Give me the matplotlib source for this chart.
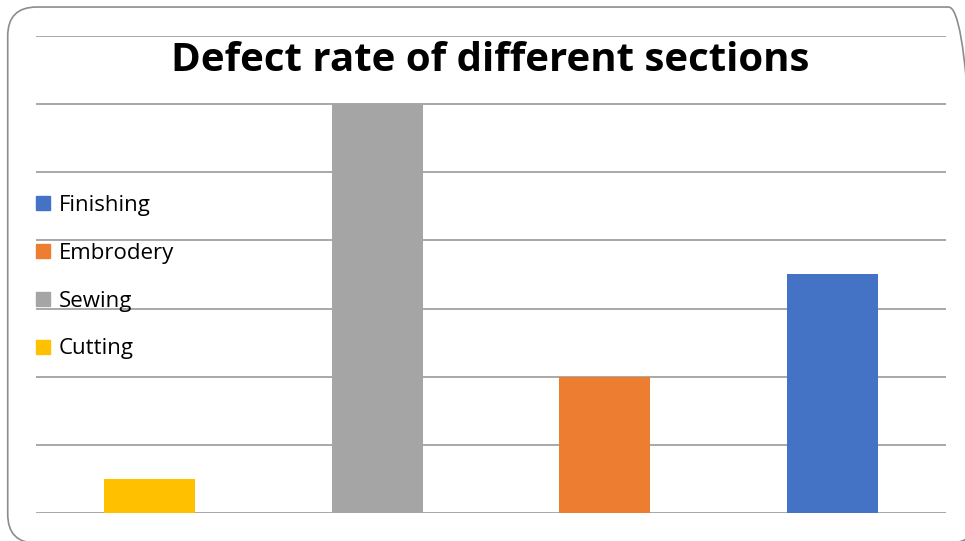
import matplotlib.pyplot as plt
from matplotlib.patches import FancyBboxPatch, Patch

# data
sections = ["Cutting", "Sewing", "Embrodery", "Finishing"]
defect_rate = [0.5, 6, 2, 3.5]
bar_colors = ["#FFC000", "#A5A5A5", "#ED7D31", "#4472C4"]

plt.rcParams['font.family'] = ['Open Sans', 'DejaVu Sans']

fig = plt.figure(figsize=(9.65, 5.41), dpi=100)
ax = fig.add_axes([0.0373, 0.0518, 0.943, 0.8817])

x = range(len(sections))
ax.bar(x, defect_rate, width=0.4, color=bar_colors, zorder=3)
ax.set_xlim(-0.5, 3.5)
ax.set_ylim(0, 7)
ax.set_yticks(range(0, 8))
ax.set_xticks([])
ax.tick_params(left=False, labelleft=False)
ax.grid(axis='y', color='#9a9a9a', linewidth=1.2, zorder=0)
for s in ax.spines.values():
    s.set_visible(False)

# title sits inside the plot area
fig.text(0.508, 0.888, "Defect rate of different sections", ha='center', va='center',
         fontsize=29, fontweight='bold')

# legend, in reverse order, overlaid on the left
handles = [Patch(color=c, label=l) for l, c in zip(sections, bar_colors)][::-1]
fig.legend(handles=handles, loc='upper left', bbox_to_anchor=(0.017, 0.677),
           frameon=False, fontsize=16, handlelength=0.6, handleheight=0.6,
           handletextpad=0.4, labelspacing=1.21, borderpad=0.4)

# rounded border around the slide, right side just past the image edge
box = FancyBboxPatch((0.008, -0.004), 1.005, 0.991, boxstyle="round,pad=0,rounding_size=0.03",
                     transform=fig.transFigure, fill=False, edgecolor='#8c8c8c', linewidth=1.2,
                     mutation_aspect=965/541)
fig.patches.append(box)

fig.savefig("out.png", dpi=100)
